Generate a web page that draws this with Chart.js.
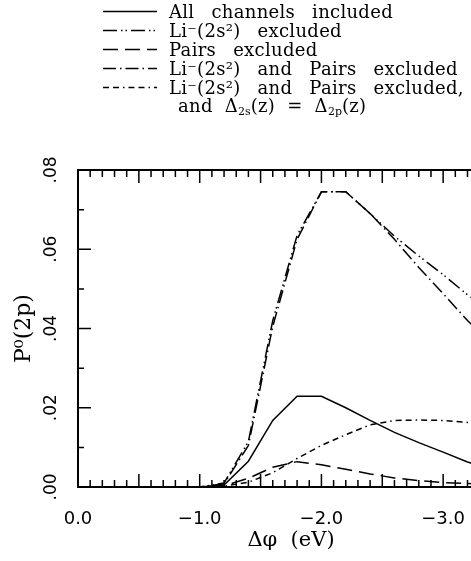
<!DOCTYPE html>
<html>
<head>
<meta charset="utf-8">
<script src="https://cdn.jsdelivr.net/npm/chart.js@4.4.1/dist/chart.umd.min.js"></script>
<style>
  html, body { margin: 0; padding: 0; background: #fff; overflow: hidden; width: 471px; height: 561px; }
  #wrap { position: absolute; left: 0; top: 0; width: 504px; height: 561px; }
  #legend { position: absolute; left: 0; top: 0; font-family: "DejaVu Serif", serif; font-size: 18px; color: #000; }
  .row { position: absolute; left: 103px; height: 19px; display: flex; align-items: center; white-space: nowrap; letter-spacing: 0.3px; word-spacing: 11px; }
  .row svg { width: 54px; height: 19px; margin-right: 12px; flex: none; }
  .row.cont { left: 178px; word-spacing: 6px; }
  sub { font-size: 11px; vertical-align: -3px; letter-spacing: 0; }
</style>
</head>
<body>
<div id="wrap"><canvas id="c" width="504" height="561"></canvas></div>
<div id="legend"></div>
<script>
// Δφ (eV) grid shared by all curves
const dphi = [0.0, -1.0, -1.2, -1.4, -1.6, -1.8, -2.0, -2.2, -2.4, -2.6, -2.8, -3.0, -3.2, -3.4, -3.5];

// P0(2p)
const pAll       = [0, 0, 0.0005, 0.0065, 0.0168, 0.0229, 0.0229, 0.0200, 0.0168, 0.0138, 0.0112, 0.0088, 0.0063, 0.0045, 0.0038];
const pNoLi      = [0, 0, 0.0010, 0.0115, 0.0420, 0.0635, 0.0745, 0.0745, 0.0690, 0.0633, 0.0583, 0.0536, 0.0485, 0.0440, 0.0420];
const pNoPairs   = [0, 0, 0.0003, 0.0022, 0.0050, 0.0064, 0.0056, 0.0045, 0.0033, 0.0023, 0.0016, 0.0011, 0.0009, 0.0007, 0.0006];
const pNoLiPairs = [0, 0, 0.0008, 0.0105, 0.0405, 0.0625, 0.0745, 0.0745, 0.0690, 0.0625, 0.0554, 0.0488, 0.0420, 0.0360, 0.0330];
const pNoLiPairsD= [0, 0, 0.0002, 0.0012, 0.0036, 0.0072, 0.0105, 0.0132, 0.0157, 0.0168, 0.0169, 0.0168, 0.0163, 0.0157, 0.0154];

const xTickValues = [0, -1, -2, -3];
const xTickLabels = ['0.0', '\u22121.0', '\u22122.0', '\u22123.0'];
const yTickValues = [0, 0.02, 0.04, 0.06, 0.08];
const yTickLabels = ['.00', '.02', '.04', '.06', '.08'];

const legendLabels = [
  'All channels included',
  'Li\u207B(2s\u00B2) excluded',
  'Pairs excluded',
  'Li\u207B(2s\u00B2) and Pairs excluded',
  'Li\u207B(2s\u00B2) and Pairs excluded,'
];
const legendExtra = 'and \u0394<sub>2s</sub>(z) = \u0394<sub>2p</sub>(z)';

const dashes = [
  [],
  [14, 4, 1.5, 3, 1.5, 4],
  [15, 7],
  [13, 4, 1.5, 4],
  [6, 4, 6, 4, 1.5, 4]
];
const series = [pAll, pNoLi, pNoPairs, pNoLiPairs, pNoLiPairsD];

const toXY = arr => arr.map((v, i) => ({ x: dphi[i], y: v }));

// legend (html)
const leg = document.getElementById('legend');
legendLabels.forEach((lab, i) => {
  const row = document.createElement('div');
  row.className = 'row';
  row.style.top = (2 + i * 19) + 'px';
  const da = dashes[i].length ? 'stroke-dasharray="' + dashes[i].join(' ') + '"' : '';
  row.innerHTML = '<svg viewBox="0 0 54 19"><line x1="0" y1="9.5" x2="54" y2="9.5" stroke="#000" stroke-width="1.5" ' + da + '/></svg><span>' + lab + '</span>';
  leg.appendChild(row);
});
const extra = document.createElement('div');
extra.className = 'row cont';
extra.style.top = (2 + 5 * 19) + 'px';
extra.innerHTML = '<span>' + legendExtra + '</span>';
leg.appendChild(extra);

// frame with inward ticks + rotated y labels
const framePlugin = {
  id: 'frame',
  afterDraw(chart) {
    const ctx = chart.ctx;
    const { left, right, top, bottom } = chart.chartArea;
    const xs = chart.scales.x, ys = chart.scales.y;
    ctx.save();
    ctx.strokeStyle = '#000';
    ctx.lineWidth = 2;
    ctx.strokeRect(left, top, right - left, bottom - top);
    ctx.lineWidth = 1.5;
    ctx.beginPath();
    for (let i = 0; i <= 35; i++) {
      const px = xs.getPixelForValue(-i / 10);
      const len = i % 5 === 0 ? 13 : 7;
      ctx.moveTo(px, bottom); ctx.lineTo(px, bottom - len);
      ctx.moveTo(px, top); ctx.lineTo(px, top + len);
    }
    for (let j = 0; j <= 8; j++) {
      const py = ys.getPixelForValue(j / 100);
      const len = j % 2 === 0 ? 13 : 6;
      ctx.moveTo(left, py); ctx.lineTo(left + len, py);
      ctx.moveTo(right, py); ctx.lineTo(right - len, py);
    }
    ctx.stroke();
    ctx.fillStyle = '#000';
    ctx.font = '17px "DejaVu Sans"';
    ctx.textAlign = 'center';
    ctx.textBaseline = 'middle';
    yTickValues.forEach((v, k) => {
      ctx.save();
      ctx.translate(52, ys.getPixelForValue(v));
      ctx.rotate(-Math.PI / 2);
      ctx.fillText(yTickLabels[k], 0, 0);
      ctx.restore();
    });
    ctx.restore();
  }
};

new Chart(document.getElementById('c'), {
  type: 'line',
  data: {
    datasets: series.map((s, i) => ({
      label: legendLabels[i],
      data: toXY(s),
      borderColor: '#000',
      borderWidth: 1.5,
      borderDash: dashes[i],
      pointRadius: 0,
      tension: 0,
      fill: false
    }))
  },
  options: {
    responsive: false,
    animation: false,
    layout: { padding: { top: 170, left: 0, right: 0, bottom: 0 } },
    plugins: { legend: { display: false }, tooltip: { enabled: false } },
    scales: {
      x: {
        type: 'linear',
        reverse: true,
        min: -3.5,
        max: 0,
        grid: { display: false },
        border: { display: false },
        afterBuildTicks: s => { s.ticks = xTickValues.map(v => ({ value: v })); },
        afterFit: s => { s.height = 74; },
        ticks: {
          padding: 14,
          maxRotation: 0,
          color: '#000',
          font: { family: 'DejaVu Sans', size: 18 },
          callback: v => xTickLabels[xTickValues.indexOf(v)]
        },
        title: {
          display: true,
          text: '\u0394\u03C6  (eV)',
          color: '#000',
          font: { family: 'DejaVu Serif', size: 21 },
          padding: { top: 0, bottom: 8 }
        }
      },
      y: {
        min: 0,
        max: 0.08,
        grid: { display: false },
        border: { display: false },
        afterBuildTicks: s => { s.ticks = yTickValues.map(v => ({ value: v })); },
        afterFit: s => { s.width = 78; },
        ticks: { display: false },
        title: {
          display: true,
          text: 'P\u2070(2p)',
          color: '#000',
          font: { family: 'DejaVu Serif', size: 22 },
          padding: { top: 11, bottom: 0 }
        }
      }
    }
  },
  plugins: [framePlugin]
});
</script>
</body>
</html>
